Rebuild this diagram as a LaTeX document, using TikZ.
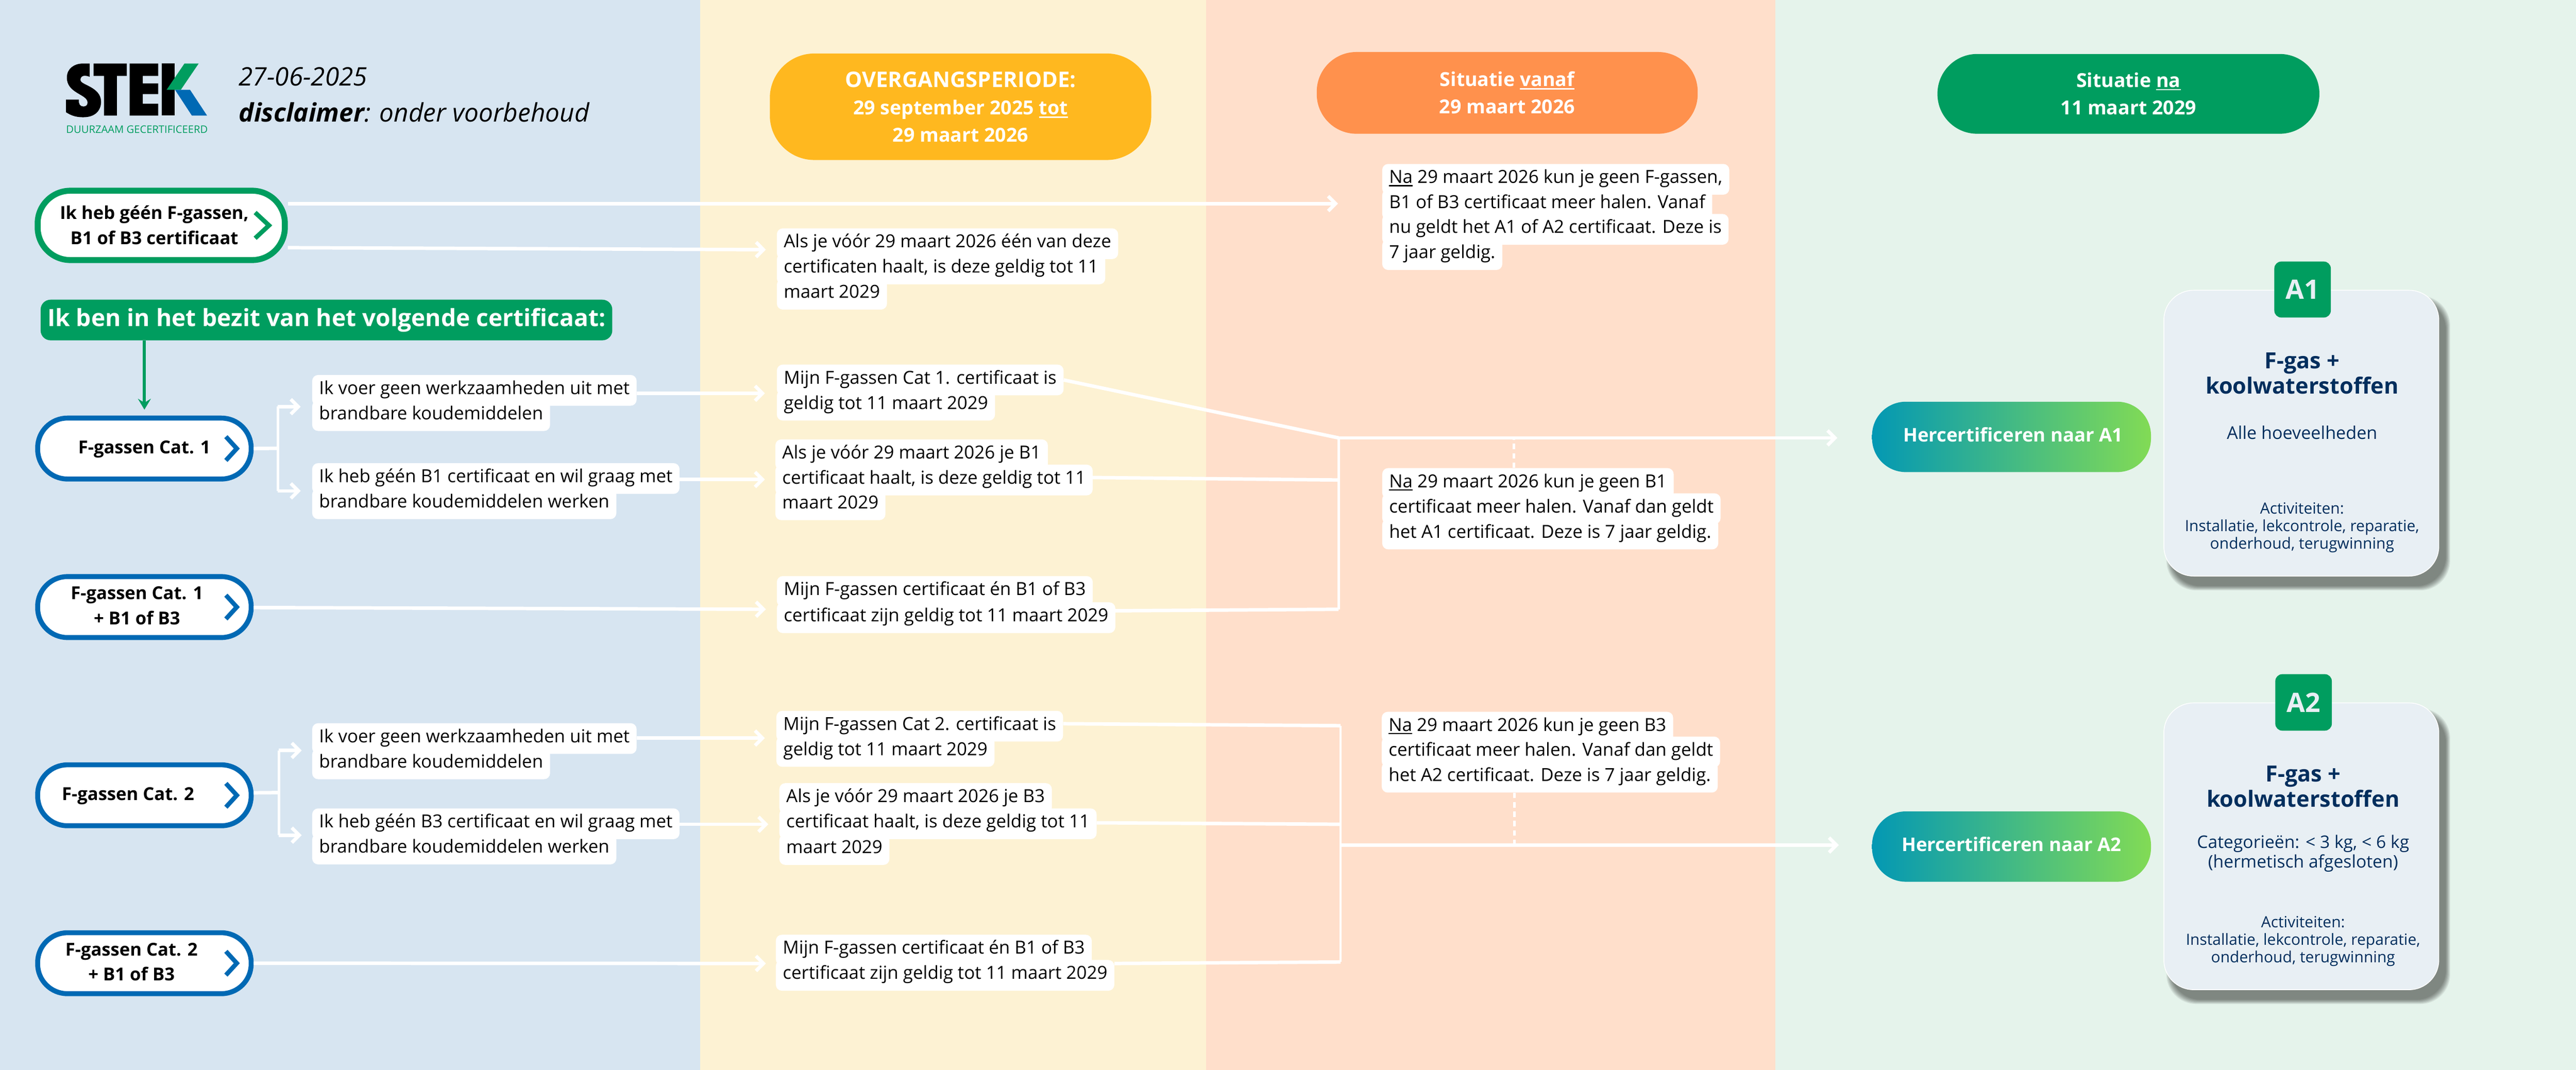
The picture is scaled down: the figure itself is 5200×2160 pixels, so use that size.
\documentclass[tikz,border=0pt]{standalone}
\usepackage{fontspec}
\setmainfont{Open Sans}
\usetikzlibrary{arrows.meta,calc}
\definecolor{pblue}{HTML}{D7E5F1}
\definecolor{pyellow}{HTML}{FDF2D3}
\definecolor{porange}{HTML}{FFDFCB}
\definecolor{pgreen}{HTML}{E5F3EB}
\definecolor{stgreen}{HTML}{009D5F}
\definecolor{stblue}{HTML}{0069B4}
\definecolor{hyellow}{HTML}{FFB81F}
\definecolor{horange}{HTML}{FF914D}
\definecolor{navy}{HTML}{002E5D}
\definecolor{cardc}{HTML}{E8EFF4}
\definecolor{gradl}{HTML}{0398B4}
\definecolor{gradr}{HTML}{82DB55}
\newcommand\fsz[2]{\fontsize{#1pt}{#2pt}\selectfont}
\newcommand\lbl[2]{\kern#1pt\begin{tabular}{@{}c@{}}#2\end{tabular}\kern-#1pt}
\newcommand\lowr[2]{\raisebox{-#1pt}[\height][\depth]{#2}}
\newcommand\tl[4]{\node[linebox] (#1) at (#2,#3) {#4};}
\newsavebox\ulbox
\newcommand\ul[1]{\sbox\ulbox{#1}\rlap{\raisebox{-6.5pt}{\rule{\wd\ulbox}{3pt}}}\usebox\ulbox}
\tikzset{
  linebox/.style={fill=white,rounded corners=12pt,inner xsep=14pt,inner ysep=13pt,text height=26pt,text depth=10pt,anchor=west,font=\fsz{36.3}{50}},
  gpill/.style={draw=stgreen,line width=12pt,fill=white,rounded corners=66pt,minimum width=499pt,minimum height=140pt,inner sep=0pt,font=\fsz{36}{50}\bfseries},
  bpill/.style={draw=stblue,line width=10pt,fill=white,rounded corners=60pt,minimum width=431pt,minimum height=123pt,inner sep=0pt,font=\fsz{36}{50}\bfseries},
  hpill/.style={text=white,rounded corners=80pt,inner sep=0pt,font=\fsz{39}{55}\bfseries},
  gradpill/.style={left color=gradl,right color=gradr,text=white,rounded corners=68pt,inner sep=0pt,minimum width=563pt,minimum height=142pt,font=\fsz{38}{50}\bfseries},
  card/.style={fill=cardc,draw=white,line width=1.5pt,rounded corners=60pt,minimum width=555pt,inner sep=0pt},
  tabn/.style={fill=stgreen,text=cardc,rounded corners=14pt,minimum width=114pt,inner sep=0pt,font=\fsz{54}{60}\bfseries},
  cardtitle/.style={text=navy,align=center,inner sep=0pt,font=\fsz{45}{51}\bfseries},
  cardtext/.style={text=navy,align=center,inner sep=0pt,font=\fsz{35}{40}},
  cardsmall/.style={text=navy,align=center,inner sep=0pt,font=\fsz{31.2}{35.5}},
  conn/.style={draw=white,line width=7pt},
  arr/.style={conn,-{Straight Barb[length=15pt,width=30pt]}},
  dashc/.style={draw=white,line width=5pt,dash pattern=on 11pt off 8pt},
  chevg/.style={draw=stgreen,line width=9pt,miter limit=6},
  chevb/.style={draw=stblue,line width=9pt,miter limit=6}
}
\begin{document}
\begin{tikzpicture}[x=1pt,y=-1pt]
\useasboundingbox (0,0) rectangle (5200,2160);
% panels
\fill[pblue] (0,0) rectangle (1413,2160);
\fill[pyellow] (1413,0) rectangle (2435,2160);
\fill[porange] (2435,0) rectangle (3584,2160);
\fill[pgreen] (3584,0) rectangle (5200,2160);
% logo
\begin{scope}[shift={(100,100)},x=0.3333pt,y=-0.3333pt]
\fill[black] (243,85) -- (243,165) .. controls (225,158) and (187,150) .. (187,185) .. controls (187,215) and (310,225) .. (312,315) .. controls (312,375) and (270,410) .. (205,410) .. controls (150,410) and (125,395) .. (100,380) -- (100,303) -- (178,303) .. controls (175,330) and (185,345) .. (205,345) .. controls (222,345) and (232,335) .. (230,318) .. controls (226,270) and (105,265) .. (105,170) .. controls (105,115) and (150,85) .. (200,85) -- cycle;
\fill[black] (267,85) -- (468,85) -- (468,160) -- (408,160) -- (408,400) -- (330,400) -- (330,160) -- (267,160) -- cycle;
\fill[black] (485,85) -- (658,85) -- (658,160) -- (565,160) -- (565,205) -- (658,205) -- (658,270) -- (565,270) -- (565,328) -- (658,328) -- (658,400) -- (485,400) -- cycle;
\fill[black] (680,85) -- (758,85) -- (758,400) -- (680,400) -- cycle;
\fill[stgreen] (817,85) -- (903,85) -- (795,244) -- (709,244) -- cycle;
\fill[stblue] (760,244) -- (851,244) -- (954,400) -- (862,400) -- cycle;
\end{scope}
\node[text=stgreen,inner sep=0pt,font=\fsz{21}{24}] (logotext) at (276.5,261) {DUURZAAM GECERTIFICEERD};
\node[anchor=west,inner sep=0pt,font=\fsz{51.5}{60}\itshape] (datet) at (482,155) {27-06-2025};
\node[anchor=west,inner sep=0pt,font=\fsz{51.5}{60}\itshape] (disc) at (482,227) {\textbf{disclaimer}: onder voorbehoud};
% headers
\node[hpill,fill=hyellow,minimum width=770pt,minimum height=215pt,rounded corners=90pt] (h1) at (1939,215.5) {\lowr{5}{\begin{tabular}{@{}c@{}}\fsz{43.5}{57}OVERGANGSPERIODE:\\29 september 2025 \ul{tot}\\29 maart 2026\end{tabular}}};
\node[hpill,fill=horange,minimum width=769pt,minimum height=165pt] (h2) at (3042.5,187.5) {\lowr{3}{\begin{tabular}{@{}c@{}}Situatie \ul{vanaf}\\29 maart 2026\end{tabular}}};
\node[hpill,fill=stgreen,minimum width=771pt,minimum height=161pt] (h3) at (4296.5,189.5) {\lowr{3}{\begin{tabular}{@{}c@{}}Situatie \ul{na}\\11 maart 2029\end{tabular}}};
% left pills
\node[gpill] (n1) at (325.5,455) {\lowr{3}{\lbl{-14}{Ik heb géén F-gassen,\\B1 of B3 certificaat}}};
\node[fill=stgreen,text=white,rounded corners=20pt,minimum width=1154pt,minimum height=82pt,inner sep=0pt,font=\fsz{48}{60}\bfseries] (own) at (659,646) {Ik ben in het bezit van het volgende certificaat:};
\node[bpill] (c1) at (291.5,905.5) {\lbl{0}{F-gassen Cat. 1}};
\node[bpill] (c1b) at (291.5,1225.5) {\lbl{-15}{F-gassen Cat. 1\\+ B1 of B3}};
\node[bpill] (c2) at (291.5,1605.5) {\lbl{-33}{F-gassen Cat. 2}};
\node[bpill] (c2b) at (291.5,1944.5) {\lbl{-26}{F-gassen Cat. 2\\+ B1 of B3}};
\foreach \n in {c1,c1b,c2,c2b}{
  \draw[chevb] ([xshift=-56pt,yshift=24pt]\n.east) -- ([xshift=-34pt]\n.east) -- ([xshift=-56pt,yshift=-24pt]\n.east);
}
\draw[chevg] ([xshift=-66pt,yshift=26pt]n1.east) -- ([xshift=-38pt]n1.east) -- ([xshift=-66pt,yshift=-26pt]n1.east);
% column 1 text
\tl{ka1}{630}{788}{Ik voer geen werkzaamheden uit met}
\tl{ka2}{630}{839}{brandbare koudemiddelen}
\tl{kb1}{630}{966}{Ik heb géén B1 certificaat en wil graag met}
\tl{kb2}{630}{1017}{brandbare koudemiddelen werken}
\tl{kc1}{630}{1491}{Ik voer geen werkzaamheden uit met}
\tl{kc2}{630}{1542}{brandbare koudemiddelen}
\tl{kd1}{630}{1663}{Ik heb géén B3 certificaat en wil graag met}
\tl{kd2}{630}{1714}{brandbare koudemiddelen werken}
% column 2 text
\tl{t1a}{1568}{492}{Als je vóór 29 maart 2026 één van deze}
\tl{t1b}{1568}{543}{certificaten haalt, is deze geldig tot 11}
\tl{t1c}{1568}{594}{maart 2029}
\tl{t2a}{1568}{767}{Mijn F-gassen Cat 1. certificaat is}
\tl{t2b}{1568}{818}{geldig tot 11 maart 2029}
\tl{t3a}{1565}{918}{Als je vóór 29 maart 2026 je B1}
\tl{t3b}{1565}{969}{certificaat haalt, is deze geldig tot 11}
\tl{t3c}{1565}{1019}{maart 2029}
\tl{t4a}{1568}{1194}{Mijn F-gassen certificaat én B1 of B3}
\tl{t4b}{1568}{1247}{certificaat zijn geldig tot 11 maart 2029}
\tl{t5a}{1567}{1466}{Mijn F-gassen Cat 2. certificaat is}
\tl{t5b}{1567}{1517}{geldig tot 11 maart 2029}
\tl{t6a}{1573}{1612}{Als je vóór 29 maart 2026 je B3}
\tl{t6b}{1573}{1663}{certificaat haalt, is deze geldig tot 11}
\tl{t6c}{1573}{1715}{maart 2029}
\tl{t7a}{1566}{1918}{Mijn F-gassen certificaat én B1 of B3}
\tl{t7b}{1566}{1969}{certificaat zijn geldig tot 11 maart 2029}
% column 3 text
\tl{na1}{2790}{362}{\ul{Na} 29 maart 2026 kun je geen F-gassen,}
\tl{na2}{2790}{413}{B1 of B3 certificaat meer halen. Vanaf}
\tl{na3}{2790}{463}{nu geldt het A1 of A2 certificaat. Deze is}
\tl{na4}{2790}{514}{7 jaar geldig.}
\tl{nb1}{2790}{976}{\ul{Na} 29 maart 2026 kun je geen B1}
\tl{nb2}{2790}{1027}{certificaat meer halen. Vanaf dan geldt}
\tl{nb3}{2790}{1078}{het A1 certificaat. Deze is 7 jaar geldig.}
\tl{nc1}{2789}{1468}{\ul{Na} 29 maart 2026 kun je geen B3}
\tl{nc2}{2789}{1518}{certificaat meer halen. Vanaf dan geldt}
\tl{nc3}{2789}{1569}{het A2 certificaat. Deze is 7 jaar geldig.}
% outcome
\node[gradpill] (ha1) at (4060.5,882) {\lbl{3}{Hercertificeren naar A1}};
\node[gradpill] (ha2) at (4060.5,1709) {\lbl{0}{Hercertificeren naar A2}};
% cards
\foreach \k in {0,...,9}{
  \fill[black,opacity=0.055,rounded corners=60pt] ({4368+14-9+\k},{586+20-9+\k}) rectangle ({4923+14+9-\k},{1163+20+9-\k});
  \fill[black,opacity=0.055,rounded corners=60pt] ({4368+14-9+\k},{1419+20-9+\k}) rectangle ({4923+14+9-\k},{1998+20+9-\k});
}
\node[card,minimum height=577pt] (card1) at (4645.5,874.5) {};
\node[card,minimum height=579pt] (card2) at (4645.5,1708.5) {};
\node[tabn,minimum height=113pt] (a1) at (4648,584.5) {A1};
\node[tabn,minimum height=114pt] (a2) at (4650,1418) {A2};
\node[cardtitle] (c1t) at (4647,753.5) {F-gas +\\koolwaterstoffen};
\node[cardtext,font=\fsz{35.5}{40}] (c1q) at (4647,873) {Alle hoeveelheden};
\node[cardsmall] (c1s) at (4647,1065) {Activiteiten:\\Installatie, lekcontrole, reparatie,\\onderhoud, terugwinning};
\node[cardtitle] (c2t) at (4649,1588) {F-gas +\\koolwaterstoffen};
\node[cardtext] (c2q) at (4649,1723) {Categorieën: < 3 kg, < 6 kg\\(hermetisch afgesloten)};
\node[cardsmall] (c2s) at (4649,1900) {Activiteiten:\\Installatie, lekcontrole, reparatie,\\onderhoud, terugwinning};
% connector coordinates
\coordinate (tipna) at (2701,411);
\coordinate (tipt1) at (1546,504);
\coordinate (m1) at (2702,884);
\coordinate (m1b) at (2702,969);
\coordinate (m1c) at (2702,1230);
\coordinate (tipa1) at (3709,884);
\coordinate (dash1) at (3056,884);
\coordinate (s1) at (561,905);
\coordinate (s1a) at (561,821);
\coordinate (s1b) at (561,991);
\coordinate (tip1a) at (607,821);
\coordinate (tip1b) at (607,991);
\coordinate (s2) at (563,1600);
\coordinate (s2a) at (563,1515);
\coordinate (s2b) at (563,1686);
\coordinate (tip2a) at (609,1515);
\coordinate (tip2b) at (609,1686);
\coordinate (tipt2) at (1544,794);
\coordinate (tipt3) at (1544,968);
\coordinate (tipt4) at (1546,1230);
\coordinate (tipt5) at (1544,1490);
\coordinate (tipt6) at (1551,1664);
\coordinate (tipt7) at (1546,1945);
\coordinate (m2a) at (2706,1465);
\coordinate (m2b) at (2706,1664);
\coordinate (m2c) at (2706,1942);
\coordinate (m2) at (2706,1706);
\coordinate (tipa2) at (3712,1706);
\coordinate (dash2) at (3057,1706);
% connectors
\draw[arr] ([yshift=44pt]n1.east) -- (tipna);
\draw[arr] ([yshift=-45pt]n1.east) -- (tipt1);
\draw[stgreen,line width=6pt,-{Stealth[length=22pt,width=26pt,inset=8pt]}] (own.south -| c1.north) -- ([yshift=12pt]c1.north);
\draw[conn] (c1.east) -- (s1);
\draw[conn,line width=5.5pt] (s1a) -- (s1b);
\draw[arr] (s1a) -- (tip1a);
\draw[arr] (s1b) -- (tip1b);
\draw[arr] (ka1.east |- tipt2) -- (tipt2);
\draw[arr] (kb1.east |- tipt3) -- (tipt3);
\draw[arr] ([yshift=-1pt]c1b.east) -- (tipt4);
\draw[conn] ([yshift=5pt]c2.east) -- (s2);
\draw[conn,line width=5.5pt] (s2a) -- (s2b);
\draw[arr] (s2a) -- (tip2a);
\draw[arr] (s2b) -- (tip2b);
\draw[arr] (kc1.east |- tipt5) -- (tipt5);
\draw[arr] (kd1.east |- tipt6) -- (tipt6);
\draw[arr] (c2b.east) -- (tipt7);
\draw[conn] (t2a.east) -- (m1);
\draw[conn] ([yshift=5pt]t3b.east) -- (m1b);
\draw[conn] ([yshift=14pt]t4b.east) -- (m1c);
\draw[conn,line width=5pt] (m1) -- (m1c);
\draw[arr] (m1) -- (tipa1);
\draw[dashc] (dash1 |- nb1.north) -- (dash1);
\draw[conn] ([yshift=5pt]t5a.east) -- (m2a);
\draw[conn] ([yshift=2pt]t6b.east) -- (m2b);
\draw[conn] ([yshift=24pt]t7b.east) -- (m2c);
\draw[conn,line width=5pt] (m2a) -- (m2c);
\draw[arr] (m2) -- (tipa2);
\draw[dashc] (dash2 |- nc3.south) -- (dash2);
\end{tikzpicture}
\end{document}
